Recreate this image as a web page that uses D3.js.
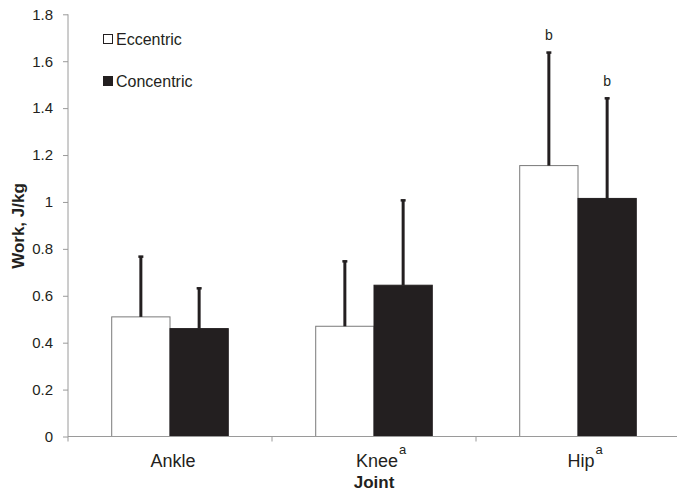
<!DOCTYPE html>
<html>
<head>
<meta charset="utf-8">
<script src="https://cdn.jsdelivr.net/npm/d3@7"></script>
<style>
  html, body { margin: 0; padding: 0; background: #fff; }
  svg { display: block; font-family: "Liberation Sans", Arial, sans-serif; }
</style>
</head>
<body>
<svg id="chart" width="677" height="493"></svg>
<script>
// Joint work per phase (J/kg), mean and SD
const joints = ["Ankle", "Knee", "Hip"];
const jointMarks = ["", "a", "a"];
const seriesNames = ["Eccentric", "Concentric"];
const eccentric = [0.51, 0.47, 1.155];
const concentric = [0.46, 0.645, 1.015];
const eccentricSD = [0.26, 0.28, 0.485];
const concentricSD = [0.175, 0.365, 0.43];
const eccentricMarks = ["", "", "b"];
const concentricMarks = ["", "", "b"];
const yTicks = [0, 0.2, 0.4, 0.6, 0.8, 1, 1.2, 1.4, 1.6, 1.8];

const svg = d3.select("#chart");
const axisColor = "#9a9a9a";
const dark = "#231f20";

const x = d3.scaleBand().domain(joints).range([68, 680]).paddingInner(0).paddingOuter(0);
const xInner = d3.scaleBand().domain(seriesNames).range([0, x.bandwidth()]).paddingInner(0).paddingOuter(0.75);
const y = d3.scaleLinear().domain([0, 1.8]).range([436.5, 14.3]);

// y axis
const yAxis = svg.append("g")
  .attr("transform", "translate(68,0)")
  .call(d3.axisLeft(y).tickValues(yTicks).tickSize(5).tickPadding(10).tickFormat(d3.format("~g")));
yAxis.select(".domain").attr("stroke", axisColor).attr("d", `M0,${y(0)}V${y(1.8)}`);
yAxis.selectAll(".tick line").attr("stroke", axisColor);
yAxis.selectAll(".tick text").attr("fill", "#231f20").style("font-size", "15px")
  .style("font-family", "'Liberation Sans', Arial, sans-serif");

const rows = joints.map((j, i) => ({
  joint: j,
  values: [
    { s: "Eccentric", v: eccentric[i], sd: eccentricSD[i], mark: eccentricMarks[i] },
    { s: "Concentric", v: concentric[i], sd: concentricSD[i], mark: concentricMarks[i] }
  ]
}));

const groups = svg.append("g").selectAll("g").data(rows).join("g")
  .attr("transform", d => `translate(${x(d.joint)},0)`);

// bars
groups.selectAll("rect").data(d => d.values).join("rect")
  .attr("x", d => xInner(d.s))
  .attr("width", xInner.bandwidth())
  .attr("y", d => y(d.v))
  .attr("height", d => y(0) - y(d.v))
  .attr("fill", d => d.s === "Eccentric" ? "#fff" : dark)
  .attr("stroke", d => d.s === "Eccentric" ? "#7a7a7a" : dark)
  .attr("stroke-width", 1);

// error bars (upper only)
const err = groups.selectAll("g.err").data(d => d.values).join("g").attr("class", "err");
err.append("line")
  .attr("x1", d => xInner(d.s) + xInner.bandwidth() / 2)
  .attr("x2", d => xInner(d.s) + xInner.bandwidth() / 2)
  .attr("y1", d => y(d.v))
  .attr("y2", d => y(d.v + d.sd))
  .attr("stroke", dark).attr("stroke-width", 3);
err.append("rect")
  .attr("x", d => xInner(d.s) + xInner.bandwidth() / 2 - 2.5)
  .attr("y", d => y(d.v + d.sd) - 0.5)
  .attr("width", 5).attr("height", 2.5)
  .attr("fill", dark);
err.filter(d => d.mark).append("text")
  .attr("x", d => xInner(d.s) + xInner.bandwidth() / 2)
  .attr("y", d => y(d.v + d.sd) - 12)
  .attr("text-anchor", "middle")
  .style("font-size", "14px").attr("fill", dark)
  .text(d => d.mark);

// x axis
const xAxisG = svg.append("g");
xAxisG.append("line")
  .attr("x1", 68).attr("x2", 677).attr("y1", y(0)).attr("y2", y(0))
  .attr("stroke", axisColor);
xAxisG.selectAll("line.tk").data(joints.map(j => x(j)).concat([x.range()[1]])).join("line")
  .attr("class", "tk")
  .attr("x1", d => d).attr("x2", d => d)
  .attr("y1", y(0)).attr("y2", y(0) + 5)
  .attr("stroke", axisColor);

const labels = xAxisG.selectAll("text.cat").data(joints).join("text")
  .attr("class", "cat")
  .attr("x", d => x(d) + x.bandwidth() / 2 + 3)
  .attr("y", 467)
  .attr("text-anchor", "middle")
  .style("font-size", "18px").attr("fill", dark)
  .text(d => d);
labels.each(function(d, i) {
  if (!jointMarks[i]) return;
  const bb = this.getBBox();
  xAxisG.append("text")
    .attr("x", bb.x + bb.width + 1)
    .attr("y", 454)
    .style("font-size", "13px").attr("fill", dark)
    .text(jointMarks[i]);
});

// axis titles
svg.append("text")
  .attr("x", 374).attr("y", 488)
  .attr("text-anchor", "middle")
  .style("font-size", "17px").style("font-weight", "bold").attr("fill", dark)
  .text("Joint");
svg.append("text")
  .attr("transform", "translate(24,226) rotate(-90)")
  .attr("text-anchor", "middle")
  .style("font-size", "17px").style("font-weight", "bold").attr("fill", dark)
  .text("Work, J/kg");

// legend
const legend = svg.append("g").selectAll("g").data(seriesNames).join("g")
  .attr("transform", (d, i) => `translate(103,${34 + i * 42})`);
legend.append("rect")
  .attr("x", 0.5).attr("y", 0.5).attr("width", 9).attr("height", 9)
  .attr("fill", (d, i) => i === 0 ? "#fff" : dark)
  .attr("stroke", dark).attr("stroke-width", 1);
legend.append("text")
  .attr("x", 13).attr("y", 5)
  .attr("dy", "0.35em")
  .style("font-size", "16px").attr("fill", dark)
  .text(d => d);
</script>
</body>
</html>
